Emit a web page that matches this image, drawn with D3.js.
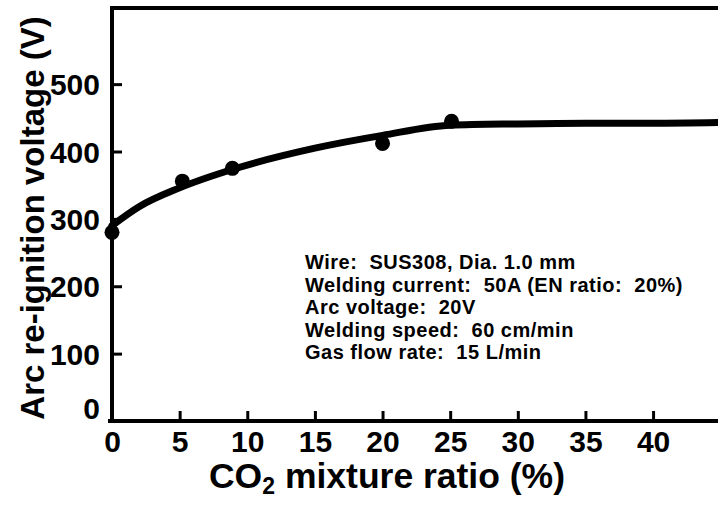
<!DOCTYPE html>
<html><head><meta charset="utf-8">
<script src="https://cdn.jsdelivr.net/npm/d3@7"></script>
<style>
html,body{margin:0;padding:0;background:#fff;}
svg{display:block;font-family:"Liberation Sans",Arial,sans-serif;font-weight:bold;}
</style></head>
<body><svg id="c" width="718" height="507"></svg>
<script>
// measured data points
const pointX = [0, 5.2, 8.9, 20.0, 25.1];
const pointY = [280, 356, 375, 412, 445];
// fitted curve
const curveX = [0, 2, 5, 9, 15, 20, 25, 30, 35, 40, 44.8];
const curveY = [290, 318, 346, 374, 405, 424, 439, 441, 442, 442, 443];
const xTicks = [0, 5, 10, 15, 20, 25, 30, 35, 40];
const yTicks = [0, 100, 200, 300, 400, 500];
const notes = ["Wire:  SUS308, Dia. 1.0 mm", "Welding current:  50A (EN ratio:  20%)", "Arc voltage:  20V", "Welding speed:  60 cm/min", "Gas flow rate:  15 L/min"];

const svg = d3.select("#c");
const x = d3.scaleLinear().domain([0, 44.8]).range([112, 718]);
const y = d3.scaleLinear().domain([0, 613]).range([421, 8]);

// top frame line
svg.append("line").attr("x1", 112).attr("x2", 718).attr("y1", y(613)).attr("y2", y(613)).attr("stroke", "#000").attr("stroke-width", 4);

const yAxis = d3.axisLeft(y).tickValues(yTicks).tickSize(-10).tickPadding(12).tickFormat(d3.format("d"));
const gy = svg.append("g").attr("transform", "translate(112,0)").call(yAxis);
gy.select(".domain").attr("stroke-width", 4).attr("d", `M0,${y(613)-2}V${y(0)+2}`);
gy.selectAll(".tick line").attr("stroke-width", 3);
gy.selectAll(".tick text").attr("font-size", 30).attr("font-weight", "bold").attr("fill", "#000")
  .attr("font-family", "Liberation Sans, Arial, sans-serif")
  .attr("dy", d => d === 0 ? "-0.1em" : "0.35em");

const xAxis = d3.axisBottom(x).tickValues(xTicks).tickSize(-10).tickPadding(10).tickFormat(d3.format("d"));
const gx = svg.append("g").attr("transform", `translate(0,${y(0)})`).call(xAxis);
gx.select(".domain").attr("stroke-width", 4).attr("d", `M108,0H718`);
gx.selectAll(".tick line").attr("stroke-width", 3);
gx.selectAll(".tick text").attr("font-size", 30).attr("font-weight", "bold").attr("fill", "#000")
  .attr("font-family", "Liberation Sans, Arial, sans-serif").attr("dy", "0.71em");

// curve
const line = d3.line().x(d => x(d[0])).y(d => y(d[1])).curve(d3.curveMonotoneX);
svg.append("path").datum(curveX.map((v, i) => [v, curveY[i]]))
  .attr("d", line).attr("fill", "none").attr("stroke", "#000").attr("stroke-width", 7).attr("stroke-linecap", "round");

// points
svg.selectAll("circle.pt").data(pointX.map((v, i) => [v, pointY[i]])).enter().append("circle")
  .attr("class", "pt").attr("cx", d => x(d[0])).attr("cy", d => y(d[1])).attr("r", 7.5).attr("fill", "#000");

// y title
svg.append("text").attr("transform", "translate(44,218) rotate(-90)").attr("text-anchor", "middle")
  .attr("font-size", 33).attr("fill", "#000").text("Arc re-ignition voltage (V)");

// x title
const xt = svg.append("text").attr("x", 387).attr("y", 488).attr("text-anchor", "middle").attr("font-size", 35.5).attr("fill", "#000");
xt.append("tspan").text("CO");
xt.append("tspan").attr("font-size", 23).attr("dy", 6).text("2");
xt.append("tspan").attr("dy", -6).text(" mixture ratio (%)");

// notes
svg.append("g").selectAll("text").data(notes).enter().append("text")
  .attr("x", 305).attr("y", (d, i) => 269 + i * 22.6).attr("font-size", 20).attr("letter-spacing", 0.5).attr("fill", "#000")
  .attr("xml:space", "preserve").style("white-space", "pre").text(d => d);
</script></body></html>
